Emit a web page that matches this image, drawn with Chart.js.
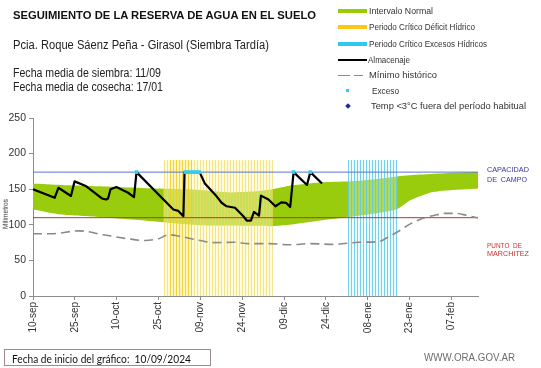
<!DOCTYPE html>
<html><head><meta charset="utf-8">
<script src="https://cdn.jsdelivr.net/npm/chart.js@4.4.1/dist/chart.umd.min.js"></script>
<style>
html,body{margin:0;padding:0;background:#fff;}
#wrap{position:relative;width:541px;height:368px;overflow:hidden;font-family:"Liberation Sans",Arial,sans-serif;background:#fff;}
#c{position:absolute;left:0;top:0;}
.t{position:absolute;white-space:nowrap;line-height:1;transform-origin:0 50%;color:#222;transform:translateY(-50%);}
.sw{position:absolute;}
</style></head><body>
<div id="wrap">
<canvas id="c" width="541" height="368"></canvas>

<div class="t" data-w="303" style="left:13px;top:15.5px;font-size:11.5px;font-weight:bold;color:#111;">SEGUIMIENTO DE LA RESERVA DE AGUA EN EL SUELO</div>
<div class="t" data-w="256" style="left:13px;top:45px;font-size:12.5px;">Pcia. Roque Sáenz Peña - Girasol (Siembra Tardía)</div>
<div class="t" data-w="148" style="left:13px;top:73px;font-size:12.5px;">Fecha media de siembra: 11/09</div>
<div class="t" data-w="150" style="left:13px;top:87px;font-size:12.5px;">Fecha media de cosecha: 17/01</div>

<div class="sw" style="left:338px;top:8.5px;width:29px;height:4px;background:#99cc00;"></div>
<div class="t" data-w="64" style="left:369px;top:10.5px;font-size:9px;color:#333;">Intervalo Normal</div>
<div class="sw" style="left:338px;top:25px;width:29px;height:4px;background:#ffc61a;"></div>
<div class="t" data-w="106" style="left:369px;top:27px;font-size:9px;color:#333;">Periodo Crítico Déficit Hídrico</div>
<div class="sw" style="left:338px;top:41.5px;width:29px;height:4px;background:#2ec8f0;"></div>
<div class="t" data-w="118" style="left:369px;top:43.5px;font-size:9px;color:#333;">Periodo Crítico Excesos Hídricos</div>
<div class="sw" style="left:338px;top:58.5px;width:29px;height:2px;background:#000;"></div>
<div class="t" data-w="42" style="left:368px;top:59.5px;font-size:9px;color:#333;">Almacenaje</div>
<div class="sw" style="left:338px;top:74.5px;width:12px;height:1.5px;background:#8a8a8a;"></div>
<div class="sw" style="left:354px;top:74.5px;width:9px;height:1.5px;background:#8a8a8a;"></div>
<div class="t" data-w="68" style="left:369px;top:75px;font-size:9px;color:#333;">Mínimo histórico</div>
<div class="sw" style="left:346px;top:89px;width:3px;height:3px;background:#33ccee;"></div>
<div class="t" data-w="27" style="left:372px;top:90.5px;font-size:9px;color:#333;">Exceso</div>
<div class="sw" style="left:345.5px;top:104px;width:4px;height:4px;background:#1f2a9a;transform:rotate(45deg);"></div>
<div class="t" data-w="155" style="left:371px;top:106px;font-size:9px;color:#333;">Temp &lt;3°C fuera del período habitual</div>

<div class="t" data-w="42" style="left:487px;top:170px;font-size:8px;color:#3535a5;">CAPACIDAD</div>
<div class="t" data-w="40" style="left:487px;top:179.5px;font-size:8px;color:#3535a5;">DE&nbsp;&nbsp;CAMPO</div>
<div class="t" data-w="35" style="left:487px;top:246px;font-size:8px;color:#cc3030;">PUNTO&nbsp;&nbsp;DE</div>
<div class="t" data-w="42" style="left:487px;top:253.5px;font-size:8px;color:#cc3030;">MARCHITEZ</div>

<div class="t" style="left:6px;top:214px;font-size:6.5px;color:#333;transform:translate(-50%,-50%) rotate(-90deg);transform-origin:50% 50%;">Milímetros</div>

<div class="sw" style="left:4px;top:349px;width:205px;height:15px;border:1px solid #9d8b8b;"></div>
<div class="t" data-w="179" style="left:12px;top:357.5px;font-size:11px;font-family:Lato,'Liberation Sans',sans-serif;color:#111;">Fecha de inicio del gráfico:&nbsp;&nbsp;10/09/2024</div>
<div class="t" data-w="91" style="left:424px;top:358px;font-size:10px;color:#6d6d6d;">WWW.ORA.GOV.AR</div>
</div>

<script>
// ---- data (days since 10-sep) ----
const tickDays = [0, 15, 30, 45, 60, 75, 90, 105, 120, 135, 150];
const tickLabels = ['10-sep','25-sep','10-oct','25-oct','09-nov','24-nov','09-dic','24-dic','08-ene','23-ene','07-feb'];
const yTicks = [0, 50, 100, 150, 200, 250];

const almDays = [0, 7.8, 9.1, 13.6, 14.9, 19.1, 24.7, 26.2, 26.9, 27.8, 29.9, 34.1, 36.2, 37.1, 50.3, 52.1, 53.9, 54.3, 59.7, 61.6, 65.8, 67.6, 69.4, 72.4, 75.4, 76.6, 78.1, 79.2, 80.3, 81.0, 81.7, 84.4, 86.9, 89.0, 90.7, 92.2, 93.4, 98.2, 99.4, 103.6];
const almVals = [150, 138, 152, 140.5, 161, 154, 137, 135.5, 137, 150, 153, 145, 139, 174, 121.5, 119.5, 112, 174, 174, 158, 140, 131, 126, 124, 112, 106, 106, 118, 115, 113, 141, 135.5, 126, 131.5, 131, 125, 174, 156, 174, 158];

const bandDays  = [0, 10, 24, 36.6, 48, 59.9, 70.6, 79.6, 85.7, 91.8, 102.9, 113.3, 122.6, 130.5, 135.1, 138.7, 142.3, 147.7, 159.5];
const bandUpper = [158, 156, 154, 152, 150.5, 149, 145.5, 147, 150, 155, 159.5, 161, 164, 168, 169.5, 170.5, 171.5, 172.5, 174];
const bandLower = [121.5, 114.5, 111, 107, 103, 99.5, 99, 98.5, 98, 100, 106, 111, 116, 122, 134, 140, 145, 148, 151];

const minDays = [0, 6.7, 16.6, 25.2, 33.9, 40.1, 45, 48.7, 52.4, 59.9, 64.8, 72.2, 77.2, 84.6, 92, 99.4, 108, 116.7, 124.1, 126.5, 131.5, 135.1, 141.2, 144.8, 147.3, 151.3, 155.2, 159.5];
const minVals = [87.5, 87.5, 91.5, 86, 80.5, 78, 80.5, 86, 84, 78, 75, 75.5, 73.5, 73.5, 72, 73.5, 72.5, 75.5, 76.5, 81, 92, 101, 111, 114, 116, 116, 113.5, 109.5];

const excDays = [37.1, 54.6, 55.6, 56.6, 57.6, 58.6, 59.6, 93.4, 99.4];
const excVals = [174, 174, 174, 174, 174, 174, 174, 174, 174];

const capDays = [0, 159.5];
const capVals = [174, 174];
const pmpVals = [110, 110];

const periodDeficit = [46.8, 85.7];
const periodDeficitCore = [49, 57];
const periodExceso = [113, 130.3];
const periodTop = 191;

const pts = (xs, ys) => xs.map((x, i) => ({x: x, y: ys[i]}));
const BAND_UP = 5;

const stripes = {
  id: 'stripes',
  afterDatasetDraw(chart, args) {
    if (args.index !== BAND_UP) return;
    const ctx = chart.ctx, x = chart.scales.x, y = chart.scales.y;
    const yt = y.getPixelForValue(periodTop), yb = y.getPixelForValue(0);
    function draw(p, bg, line, gap) {
      const x0 = x.getPixelForValue(p[0]), x1 = x.getPixelForValue(p[1]);
      ctx.save();
      ctx.fillStyle = bg;
      ctx.fillRect(x0, yt, x1 - x0, yb - yt);
      ctx.strokeStyle = line; ctx.lineWidth = 1;
      for (let px = x0; px <= x1 + 0.01; px += gap) {
        const xx = Math.round(px) + 0.5;
        ctx.beginPath(); ctx.moveTo(xx, yt); ctx.lineTo(xx, yb); ctx.stroke();
      }
      ctx.restore();
    }
    draw(periodDeficit, 'rgba(255,246,185,0.45)', 'rgba(240,218,95,0.7)', 3);
    draw(periodDeficitCore, 'rgba(255,225,60,0.2)', 'rgba(236,196,0,0.5)', 3);
    draw(periodExceso, 'rgba(205,243,252,0.35)', 'rgba(95,202,232,0.85)', 3);
  }
};

const axisColor = '#8c8c8c';
new Chart(document.getElementById('c'), {
  type: 'line',
  data: {
    datasets: [
      {data: pts(excDays, excVals), showLine: false, pointStyle: 'rect', pointRadius: 2.6, pointBackgroundColor: '#33ccee', pointBorderWidth: 0, order: 0},
      {data: pts(almDays, almVals), borderColor: '#000', borderWidth: 2.2, pointRadius: 0, tension: 0, borderJoinStyle: 'round', order: 1},
      {data: pts(minDays, minVals), borderColor: '#8a8a8a', borderWidth: 1.6, borderDash: [9, 5], pointRadius: 0, cubicInterpolationMode: 'monotone', order: 2},
      {data: pts(capDays, capVals), borderColor: '#5577cc', borderWidth: 1, pointRadius: 0, order: 3},
      {data: pts(capDays, pmpVals), borderColor: '#b8392e', borderWidth: 1, pointRadius: 0, order: 3},
      {data: pts(bandDays, bandUpper), borderWidth: 0, borderColor: 'rgba(0,0,0,0)', backgroundColor: '#9acc0e', fill: '+1', pointRadius: 0, tension: 0.2, order: 5},
      {data: pts(bandDays, bandLower), borderWidth: 0, borderColor: 'rgba(0,0,0,0)', pointRadius: 0, tension: 0.2, fill: false, order: 6}
    ]
  },
  options: {
    responsive: false, animation: false, devicePixelRatio: 1,
    layout: {padding: {top: 118, right: 63, left: 0, bottom: 0}},
    plugins: {legend: {display: false}, tooltip: {enabled: false}},
    scales: {
      x: {
        type: 'linear', min: 0, max: 159.5,
        afterBuildTicks: s => { s.ticks = tickDays.map(v => ({value: v})); },
        afterFit: s => { s.height = 72; },
        grid: {display: true, drawOnChartArea: false, drawTicks: true, tickLength: 4, color: axisColor},
        border: {display: true, color: axisColor, width: 1},
        ticks: {autoSkip: false, minRotation: 90, maxRotation: 90, padding: 2, color: '#333',
          font: {family: 'Liberation Sans', size: 10},
          callback: (v) => tickLabels[tickDays.indexOf(v)]}
      },
      y: {
        min: 0, max: 250,
        afterBuildTicks: s => { s.ticks = yTicks.map(v => ({value: v})); },
        afterFit: s => { s.width = 33; },
        grid: {display: true, drawOnChartArea: false, drawTicks: true, tickLength: 4, color: axisColor},
        border: {display: true, color: axisColor, width: 1},
        ticks: {padding: 3, color: '#333', font: {family: 'Liberation Sans', size: 10.5}}
      }
    }
  },
  plugins: [stripes]
});

document.querySelectorAll('.t[data-w]').forEach(el => {
  el.style.transform = 'none';
  const w = el.getBoundingClientRect().width;
  const s = parseFloat(el.dataset.w) / w;
  el.style.transform = 'translateY(-50%) scaleX(' + s.toFixed(3) + ')';
});
</script>
</body></html>
